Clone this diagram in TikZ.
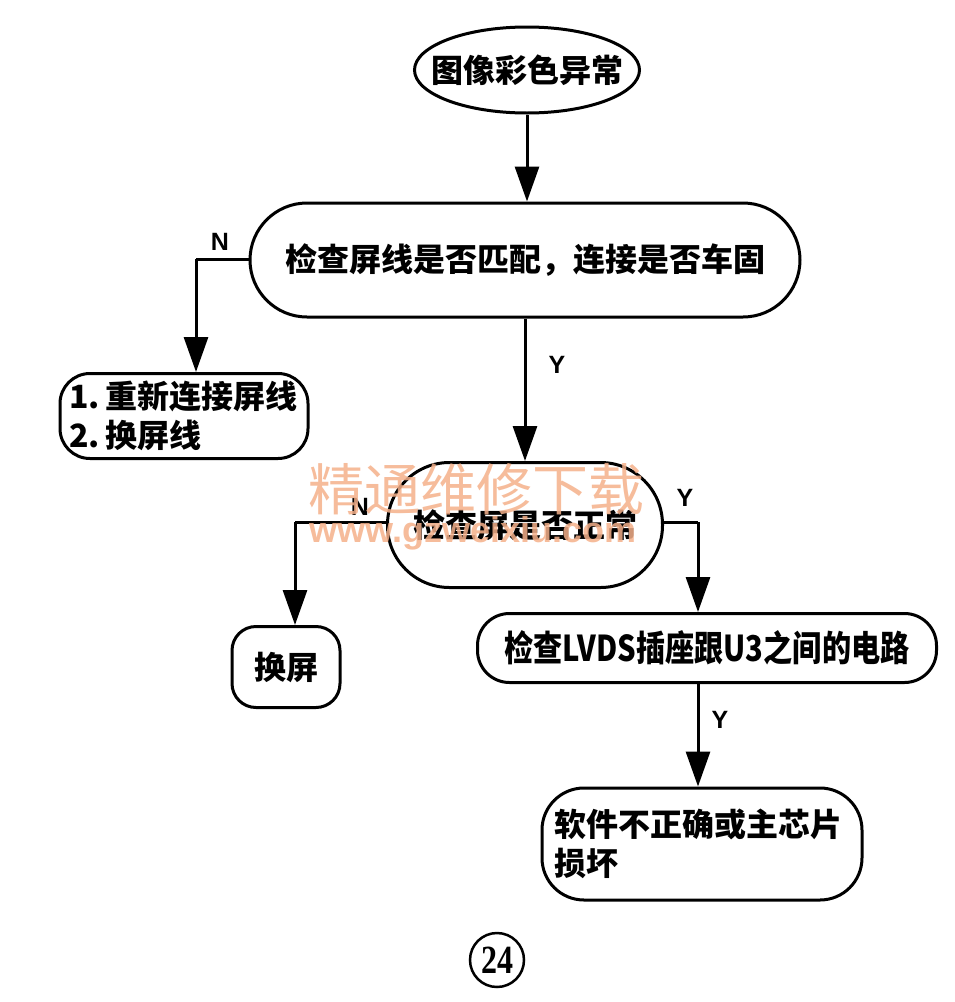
\documentclass[tikz,border=0pt]{standalone}
\usepackage{fontspec}
\setmainfont{Noto Sans CJK SC}
\newfontfamily\lat{Liberation Sans}
\newfontfamily\ser{Liberation Serif}
\usetikzlibrary{shapes.geometric,arrows.meta}
\definecolor{wmc}{HTML}{F4B08A}
\tikzset{
  every node/.style={font=\bfseries\fontsize{32}{39}\selectfont},
  box/.style={draw,line width=3pt,rectangle,inner sep=0pt,align=left},
  arr/.style={line width=3pt,-{Triangle[width=24pt,length=35pt]}},
  ln/.style={line width=3pt},
  yn/.style={font=\lat\bfseries\fontsize{25}{25}\selectfont},
  wm/.style={text=wmc,text opacity=0.85}
}
\begin{document}
\begin{tikzpicture}[x=1pt,y=-1pt]
\useasboundingbox (0,0) rectangle (954,1002);
% nodes
\node[draw,line width=3pt,ellipse,minimum width=225pt,minimum height=86pt,inner sep=0pt] (start) at (527,70) {\makebox[0pt]{图像彩色异常}};
\node[box,minimum width=550pt,minimum height=114pt,rounded corners=57pt,align=center] (b2) at (525,260) {检查屏线是否匹配，连接是否车固};
\node[box,minimum width=275pt,minimum height=125pt,rounded corners=62pt,align=center] (b3) at (525,525) {检查屏是否正常};
\node[box,minimum width=248pt,minimum height=85pt,rounded corners=30pt,text width=230pt] (b4) at (184,416) {1.\,重新连接屏线\\2.\,换屏线};
\node[box,minimum width=108pt,minimum height=81pt,rounded corners=24pt,align=center] (b5) at (286,667) {换屏};
\node[box,minimum width=459pt,minimum height=69pt,rounded corners=32pt,align=center] (b6) at (707,648) {\resizebox{405pt}{31pt}{检查LVDS插座跟U3之间的电路}};
\node[box,minimum width=320pt,minimum height=112pt,rounded corners=42pt,text width=296pt] (b7) at (702,844) {软件不正确或主芯片\\损坏};
\node[draw,circle,line width=2.5pt,minimum size=54pt,inner sep=0pt,font=\ser\bfseries\fontsize{40}{40}\selectfont] (num) at (497,960) {\scalebox{0.8}[1]{24}};
% connectors
\coordinate (c1) at (196,259);
\coordinate (c2) at (295,522);
\coordinate (c3) at (698,522);
\draw[arr] (start.south) -- (start.south |- b2.north);
\draw[arr] (b2.south) -- (b3.north);
\draw[ln] (b2.west |- c1) -- (c1);
\draw[arr] (c1) -- (c1 |- b4.north);
\draw[ln] (b3.west |- c2) -- (c2);
\draw[arr] (c2) -- (c2 |- b5.north);
\draw[ln] (b3.east |- c3) -- (c3);
\draw[arr] (c3) -- (c3 |- b6.north);
\draw[arr] (c3 |- b6.south) -- (c3 |- b7.north);
% labels
\node[yn] (n1) at (220,242) {N};
\node[yn] (y1) at (557,365) {Y};
\node[yn] (n2) at (360,507) {N};
\node[yn] (y2) at (685,498) {Y};
\node[yn] (y3) at (720,720) {Y};
% watermark (printed over the diagram)
\node[wm,font=\fontsize{56}{56}\selectfont] (wm1) at (476,489) {精通维修下载};
\node[wm,font=\lat\bfseries\fontsize{36}{36}\selectfont] (wm2) at (473,533) {www.gzweixiu.com};
\end{tikzpicture}
\end{document}
